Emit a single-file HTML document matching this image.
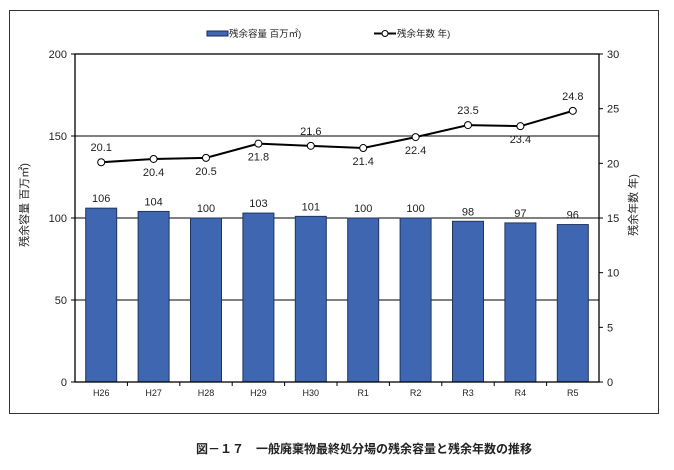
<!DOCTYPE html>
<html><head><meta charset="utf-8"><style>
html,body{margin:0;padding:0;background:#fff;}
svg{display:block;font-family:"Liberation Sans","Noto Sans CJK JP",sans-serif;}
</style></head><body>
<svg id="chart" width="674" height="470" viewBox="0 0 674 470">
<rect x="9.5" y="10.5" width="649" height="403" fill="none" stroke="#333" stroke-width="1"/>
<g>
<rect x="207" y="31" width="21" height="5" fill="#3F67B1" stroke="#1a2a55" stroke-width="1"/>
<text x="229" y="37" font-size="9.5" fill="#222">残余容量 百万㎡)</text>
<line x1="374" y1="33.5" x2="396" y2="33.5" stroke="#000" stroke-width="2"/>
<circle cx="385" cy="33.5" r="3" fill="#fff" stroke="#000" stroke-width="1"/>
<text x="397" y="37" font-size="9.5" fill="#222">残余年数 年)</text>
</g>
<text transform="translate(28,205) rotate(-90)" text-anchor="middle" font-size="11" fill="#222">残余容量 百万㎡)</text>
<text transform="translate(637,205) rotate(-90)" text-anchor="middle" font-size="11" fill="#222">残余年数 年)</text>
<g id="plot"></g>
<text x="364" y="453" text-anchor="middle" font-size="12" font-weight="bold" fill="#222">図－１７　一般廃棄物最終処分場の残余容量と残余年数の推移</text>
</svg>
<script>
const categories=["H26","H27","H28","H29","H30","R1","R2","R3","R4","R5"];
const capacity=[106,104,100,103,101,100,100,98,97,96];
const years=[20.1,20.4,20.5,21.8,21.6,21.4,22.4,23.5,23.4,24.8];
const yearsLabelAbove=[true,false,false,false,true,false,false,true,false,true];
const leftTicks=[0,50,100,150,200];
const rightTicks=[0,5,10,15,20,25,30];
const L=75,R=599,T=54,B=382;
const yL=v=>B-(v/200)*(B-T);
const yR=v=>B-(v/30)*(B-T);
const bw=(R-L)/categories.length;
const xC=i=>L+bw*(i+0.5);
const NS="http://www.w3.org/2000/svg";
const g=document.getElementById('plot');
function mk(tag,attrs,parent){const e=document.createElementNS(NS,tag);for(const k in attrs)e.setAttribute(k,attrs[k]);(parent||g).appendChild(e);return e;}
function yLabel(v,i){return yearsLabelAbove[i]?yR(v)-11:yR(v)+17;}
leftTicks.forEach(v=>{
 if(v>0&&v<200){const l=mk('line',{x1:L,x2:R,y1:yL(v),y2:yL(v),stroke:'#000','stroke-width':1});
 
 }
 const t=mk('text',{x:L-8,y:yL(v)+4,'text-anchor':'end','font-size':11,fill:'#222'});t.textContent=v;
 
 
 mk('line',{x1:L-4,x2:L,y1:yL(v),y2:yL(v),stroke:'#000'});
});
rightTicks.forEach(v=>{
 mk('line',{x1:R,x2:R+4,y1:yR(v),y2:yR(v),stroke:'#000'});
 const t=mk('text',{x:R+8,y:yR(v)+4,'font-size':11,fill:'#222'});t.textContent=v;
 
 
});
categories.forEach((c,i)=>{
 const r=mk('rect',{x:xC(i)-15.5,y:yL(capacity[i]),width:31,height:B-yL(capacity[i]),fill:'#3F67B1',stroke:'#22345e','stroke-width':1});
 
 
 const t=mk('text',{x:xC(i),y:yL(capacity[i])-6,'text-anchor':'middle','font-size':11,fill:'#222'});t.textContent=capacity[i];
 
 
 const xl=mk('text',{x:xC(i),y:B+14,'text-anchor':'middle','font-size':9,fill:'#222'});xl.textContent=c;
 
 
 if(i>0)mk('line',{x1:L+bw*i,x2:L+bw*i,y1:B,y2:B+4,stroke:'#000'});
});
const pf=mk('rect',{x:L,y:T,width:R-L,height:B-T,fill:'none',stroke:'#000','stroke-width':1.3});


const pts=years.map((v,i)=>xC(i)+','+yR(v)).join(' ');
const pl=mk('polyline',{points:pts,fill:'none',stroke:'#000','stroke-width':2});


years.forEach((v,i)=>{
 const c=mk('circle',{cx:xC(i),cy:yR(v),r:3.5,fill:'#fff',stroke:'#000','stroke-width':1});
 
 
 const t=mk('text',{x:xC(i),y:yLabel(v,i),'text-anchor':'middle','font-size':11,fill:'#222'});t.textContent=v.toFixed(1);
 
 
});
</script>
</body></html>
